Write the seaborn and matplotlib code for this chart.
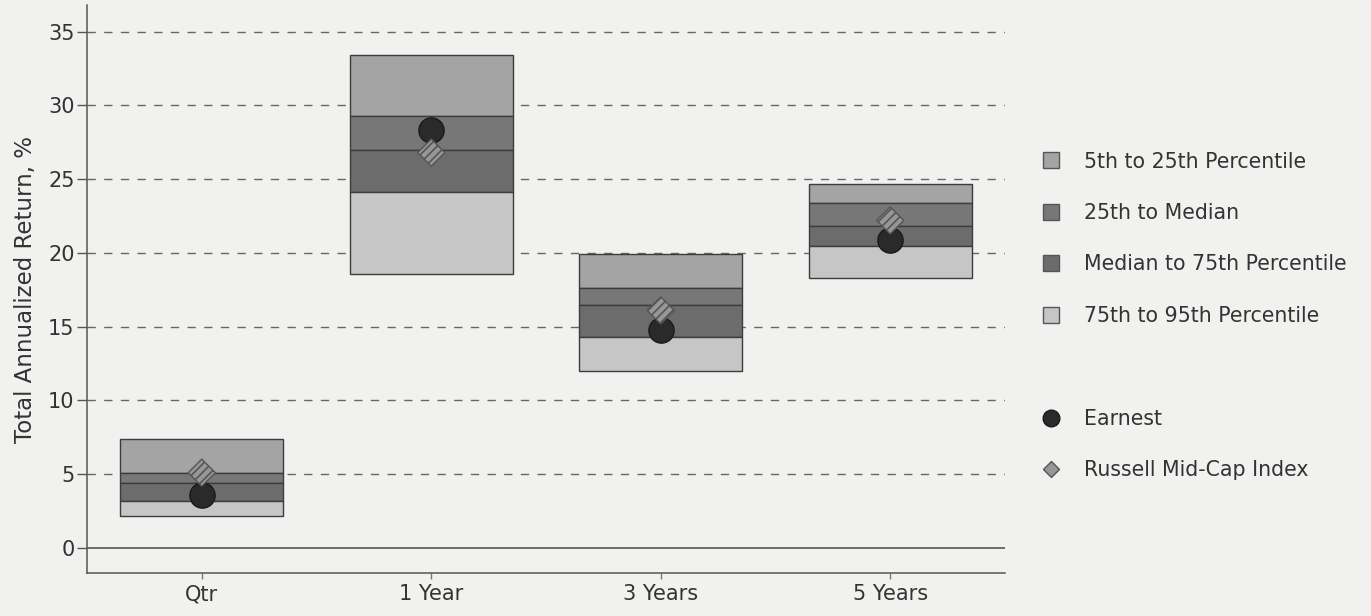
import numpy as np
import pandas as pd
import matplotlib.pyplot as plt
import seaborn as sns
from matplotlib.lines import Line2D

# data
periods = ["Qtr", "1 Year", "3 Years", "5 Years"]
p5 = [7.4, 33.4, 19.9, 24.7]
p25 = [5.05, 29.25, 17.65, 23.35]
median = [4.4, 27.0, 16.45, 21.8]
p75 = [3.2, 24.1, 14.3, 20.45]
p95 = [2.15, 18.6, 12.0, 18.3]
earnest = [3.6, 28.35, 14.75, 20.85]
russell = [5.1, 26.8, 16.1, 22.2]

band_labels = ["5th to 25th Percentile", "25th to Median",
               "Median to 75th Percentile", "75th to 95th Percentile"]
band_colors = ["#a4a4a4", "#777777", "#6c6c6c", "#c6c6c6"]
bg = "#f1f1f0"

sns.set_theme(style="white")
plt.rcParams["font.family"] = ["DejaVu Sans"]
plt.rcParams["hatch.color"] = "#e2e2e2"
plt.rcParams["hatch.linewidth"] = 1.2

fig = plt.figure(figsize=(13.71, 6.16), dpi=100, facecolor=bg)
ax = fig.add_axes([0.0635, 0.0698, 0.6695, 0.922])
ax.set_facecolor(bg)

x = np.arange(len(periods))
w = 0.71
# floating boxes: each band goes from its lower to its upper edge
uppers = [p5, p25, median, p75]
lowers = [p25, median, p75, p95]
for up, lo, col in zip(uppers, lowers, band_colors):
    up, lo = np.array(up), np.array(lo)
    ax.bar(x, up - lo, bottom=lo, width=w, color=col,
           edgecolor="#3c3c3c", linewidth=1.0, zorder=2)

df = pd.DataFrame({"x": x, "Earnest": earnest, "Russell": russell})
sns.scatterplot(data=df, x="x", y="Earnest", ax=ax, s=330, marker="o",
                color="#2a2a2a", edgecolor="#1a1a1a", linewidth=1, zorder=4)
sns.scatterplot(data=df, x="x", y="Russell", ax=ax, s=190, marker="D",
                color="#979797", edgecolor="#555555", linewidth=1,
                hatch="////", zorder=5)

ax.set_xlim(-0.5, 3.5)
ax.set_ylim(-1.7, 36.8)
ax.set_xticks(x)
ax.set_xticklabels(periods)
ax.set_yticks(np.arange(0, 36, 5))
for yv in np.arange(5, 36, 5):
    ax.axhline(yv, color="#666666", lw=1.0, ls=(0, (6, 6)), zorder=1)
ax.axhline(0, color="#555555", lw=1.2, zorder=1)

for s in ["top", "right"]:
    ax.spines[s].set_visible(False)
for s in ["left", "bottom"]:
    ax.spines[s].set_color("#555555")
    ax.spines[s].set_linewidth(1.1)
ax.tick_params(axis="y", direction="out", length=7, width=1, color="#555555",
               labelsize=15, labelcolor="#333333", pad=2, left=True)
ax.tick_params(axis="x", direction="out", length=4, width=1, color="#777777",
               labelsize=15, labelcolor="#333333", pad=4, bottom=True)
ax.set_xlabel("")
ax.set_ylabel("Total Annualized Return, %", fontsize=16.5, color="#333333",
              labelpad=8)

handles = [Line2D([], [], ls="none", marker="s", markersize=11,
                  markerfacecolor=c, markeredgecolor="#555555")
           for c in band_colors]
handles.append(Line2D([], [], ls="none"))
handles.append(Line2D([], [], ls="none", marker="o", markersize=12,
                      markerfacecolor="#2a2a2a", markeredgecolor="#1a1a1a"))
handles.append(Line2D([], [], ls="none", marker="D", markersize=8,
                      markerfacecolor="#979797", markeredgecolor="#555555"))
labels = band_labels + ["", "Earnest", "Russell Mid-Cap Index"]
fig.legend(handles, labels, loc="upper left", bbox_to_anchor=(0.744, 0.784),
           frameon=False, fontsize=14.8, labelspacing=1.53, handletextpad=1.0,
           handlelength=1.2, labelcolor="#333333")

fig.savefig("out.png", dpi=100, facecolor=bg)
